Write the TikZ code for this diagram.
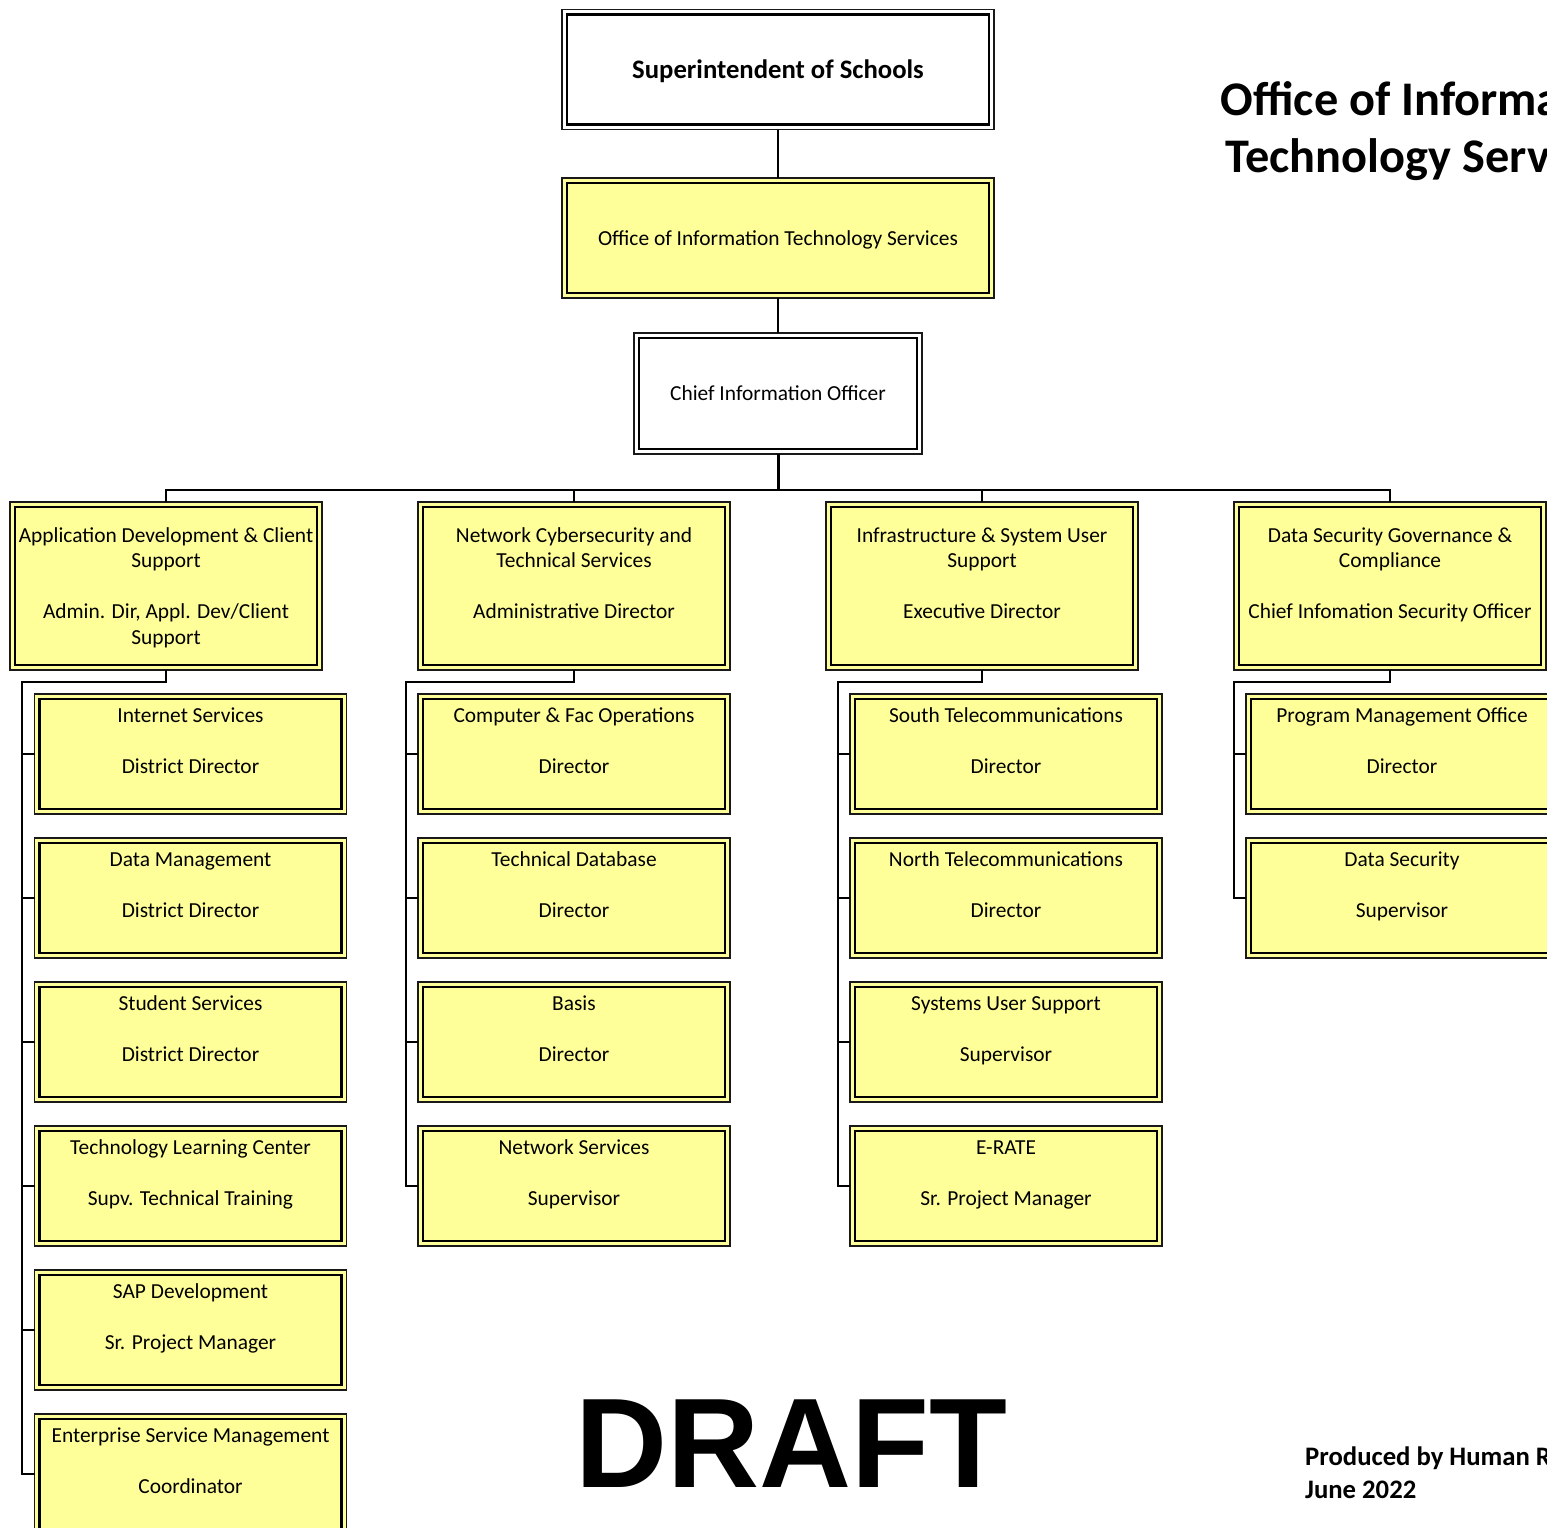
\documentclass[tikz,border=0pt]{standalone}
\usepackage{fontspec}
\setmainfont{Carlito}
\newfontfamily\draftfont{Liberation Sans}
\usetikzlibrary{calc}

\definecolor{boxyellow}{RGB}{255,255,153}
\definecolor{edgegray}{RGB}{25,25,25}

% a strut exactly one line high, so stacked lines sit at the set baselineskip
\newcommand\cstrut{\rule[-0.22\baselineskip]{0pt}{\baselineskip}}
\newcommand\regfont{\fontsize{21.4}{25.5}\selectfont\lineskiplimit=-100pt\relax}
\newcommand\headfont{\fontsize{26.7}{32.6}\selectfont\bfseries\lineskiplimit=-100pt\relax}
\newcommand\titlefont{\fontsize{48.3}{57}\selectfont\bfseries\lineskiplimit=-100pt\relax}
% unit name, blank line, position title, trailing blank line
\newcommand\unittext[2]{\cstrut #1\\\cstrut\\\cstrut #2\\\cstrut}
% two-line unit name, blank line, title line(s)
\newcommand\leadtext[4]{\cstrut #1\\\cstrut #2\\\cstrut\\\cstrut #3\\\cstrut #4}

\begin{document}
\begin{tikzpicture}[x=1pt,y=-1pt,
  unitbox/.style={draw=edgegray, line width=1.2pt, inner sep=0pt, outer sep=0pt,
    align=center, font=\regfont},
  whitebox/.style={unitbox, fill=white},
  yellowbox/.style={unitbox, fill=boxyellow},
  headbox/.style={minimum width=432pt, minimum height=120pt},
  ciobox/.style={minimum width=288pt, minimum height=121pt},
  leadbox/.style={yellowbox, minimum width=312pt, minimum height=168pt},
  subbox/.style={yellowbox, minimum width=312pt, minimum height=120pt},
  inner rule/.style={draw=black, line width=2.2pt},
  wire/.style={draw=black, line width=2pt},
]
\useasboundingbox (0,0) rectangle (1547,1528);
\clip (0,0) rectangle (1547,1528);
\fill[white] (0,0) rectangle (1547,1528);

% ---- top of the chart
\node[whitebox, headbox, font=\headfont] (sup) at (778,69.5) {\cstrut Superintendent of Schools};
\node[yellowbox, headbox] (oits) at (778,238) {\cstrut Office of Information Technology Services};
\node[whitebox, ciobox] (cio) at (778,393.5) {\cstrut Chief Information Officer};

% ---- the four divisions
\node[leadbox] (da) at (166,586) {\leadtext{Application Development \& Client}{Support}{Admin. Dir, Appl. Dev/Client}{Support}};
\node[leadbox] (db) at (574,586) {\leadtext{Network Cybersecurity and}{Technical Services}{Administrative Director}{}};
\node[leadbox] (dc) at (982,586) {\leadtext{Infrastructure \& System User}{Support}{Executive Director}{}};
\node[leadbox] (dd) at (1390,586) {\leadtext{Data Security Governance \&}{Compliance}{Chief Infomation Security Officer}{}};

% ---- units under each division
\node[subbox] (a1) at (190.5,754) {\unittext{Internet Services}{District Director}};
\node[subbox] (a2) at (190.5,898) {\unittext{Data Management}{District Director}};
\node[subbox] (a3) at (190.5,1042) {\unittext{Student Services}{District Director}};
\node[subbox] (a4) at (190.5,1186) {\unittext{Technology Learning Center}{Supv. Technical Training}};
\node[subbox] (a5) at (190.5,1330) {\unittext{SAP Development}{Sr. Project Manager}};
\node[subbox] (a6) at (190.5,1474) {\unittext{Enterprise Service Management}{Coordinator}};

\node[subbox] (b1) at (574,754) {\unittext{Computer \& Fac Operations}{Director}};
\node[subbox] (b2) at (574,898) {\unittext{Technical Database}{Director}};
\node[subbox] (b3) at (574,1042) {\unittext{Basis}{Director}};
\node[subbox] (b4) at (574,1186) {\unittext{Network Services}{Supervisor}};

\node[subbox] (c1) at (1006,754) {\unittext{South Telecommunications}{Director}};
\node[subbox] (c2) at (1006,898) {\unittext{North Telecommunications}{Director}};
\node[subbox] (c3) at (1006,1042) {\unittext{Systems User Support}{Supervisor}};
\node[subbox] (c4) at (1006,1186) {\unittext{E-RATE}{Sr. Project Manager}};

\node[subbox] (e1) at (1402,754) {\unittext{Program Management Office}{Director}};
\node[subbox] (e2) at (1402,898) {\unittext{Data Security}{Supervisor}};

% ---- inner rule of every double-ruled box
\foreach \n in {sup,oits,cio,da,db,dc,dd,a1,a2,a3,a4,a5,a6,b1,b2,b3,b4,c1,c2,c3,c4,e1,e2}
  \draw[inner rule] ($(\n.north west)+(5,5)$) rectangle ($(\n.south east)+(-5,-5)$);

% ---- reporting lines
\coordinate (hub) at (778,490);
\draw[wire] (sup) -- (oits);
\draw[wire] (oits) -- (cio);
\draw[wire, line width=3pt] (cio) -- (hub);
\draw[wire] (da.north) |- (hub) -| (dd.north);
\draw[wire] (db.north) -- (db.north |- hub);
\draw[wire] (dc.north) -- (dc.north |- hub);

\coordinate (sa) at (22,682);
\coordinate (sb) at (406,682);
\coordinate (sc) at (838,682);
\coordinate (sd) at (1234,682);

\draw[wire] (da.south) |- (sa) |- (a6.west);
\foreach \k in {a1,a2,a3,a4,a5} \draw[wire] (sa |- \k.west) -- (\k.west);
\draw[wire] (db.south) |- (sb) |- (b4.west);
\foreach \k in {b1,b2,b3} \draw[wire] (sb |- \k.west) -- (\k.west);
\draw[wire] (dc.south) |- (sc) |- (c4.west);
\foreach \k in {c1,c2,c3} \draw[wire] (sc |- \k.west) -- (\k.west);
\draw[wire] (dd.south) |- (sd) |- (e2.west);
\draw[wire] (sd |- e1.west) -- (e1.west);

% ---- free text
\node[anchor=north west, inner sep=0pt, align=left, font=\titlefont] (title) at (1220.5,71)
  {\cstrut Office of Information\\\cstrut\hspace*{5pt}Technology Services};
\node[anchor=north west, inner sep=0pt, align=left, font=\headfont] (credit) at (1305,1440)
  {\cstrut Produced by Human Resources\\\cstrut June 2022};
\node[anchor=base, inner sep=0pt, font=\draftfont\bfseries\fontsize{127.5}{150}\selectfont] (draft) at (791.5,1487) {DRAFT};
\end{tikzpicture}
\end{document}
